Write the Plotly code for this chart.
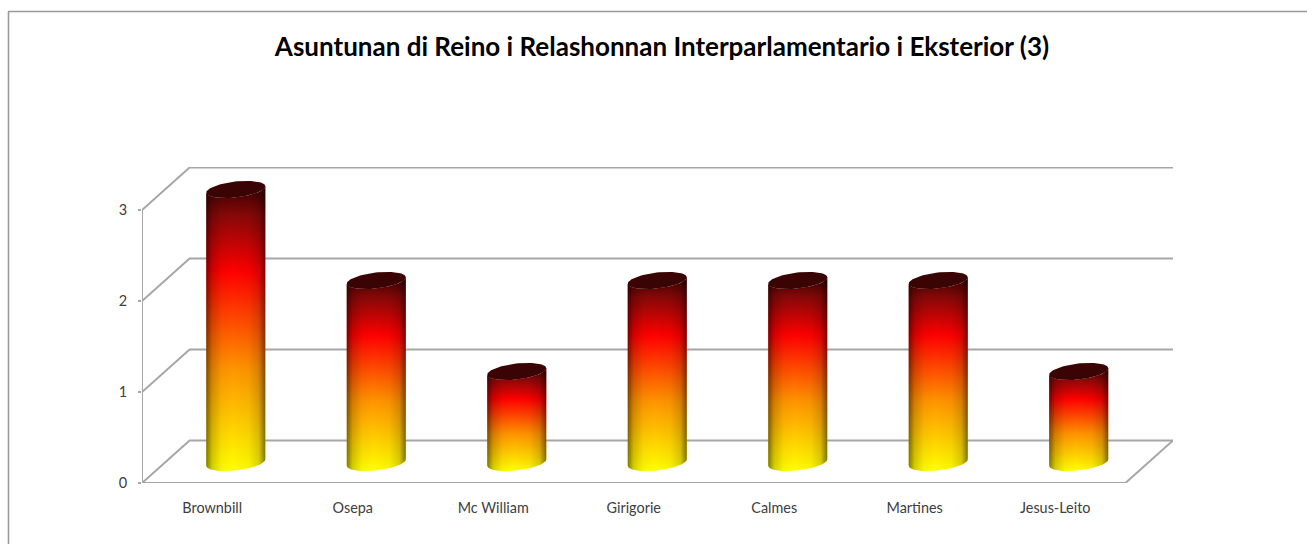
import numpy as np
import plotly.graph_objects as go

title = "Asuntunan di Reino i Relashonnan Interparlamentario i Eksterior (3)"
categories = ["Brownbill", "Osepa", "Mc William", "Girigorie", "Calmes", "Martines", "Jesus-Leito"]
values = [3, 2, 1, 2, 2, 2, 1]
y_ticks = [0, 1, 2, 3]

W, H = 1307, 544
L, R, T, B = 142, 1173, 167, 483
PX_X = (1124 - 142) / 7
PX_Y = 91.0
DX, DY = 47.5 / PX_X, 42.5 / PX_Y      # oblique depth of the chart box
CX, CY = 23.5 / PX_X, 20.5 / PX_Y      # bar axis depth position
HW, HH = 29.5 / PX_X, 8.0 / PX_Y       # ellipse half-axes
TILT = 3.2 / PX_Y                      # ellipse skew
GRID = "#a6a6a6"

fig = go.Figure()

def line(xs, ys, color=GRID, width=2):
    fig.add_trace(go.Scatter(x=xs, y=ys, mode="lines", line=dict(color=color, width=width),
                             hoverinfo="skip", showlegend=False, cliponaxis=False))

xmin, xmax = -0.5, len(categories) - 0.5

# back wall and side wall gridlines, floor
for v in y_ticks:
    line([xmin, xmin + DX, xmax + DX], [v, v + DY, v + DY])
line([xmax, xmax + DX], [0, DY])
# value axis and category axis with boundary ticks
line([xmin, xmin], [0, max(y_ticks)])
line([xmin, xmax], [0, 0])
for k in range(len(categories) + 1):
    line([xmin + k, xmin + k], [0, -6 / PX_Y], width=1.4)

body_scale = [[0, "#ffff00"], [0.36, "#ff9400"], [0.70, "#ff0000"], [0.90, "#860808"], [1, "#3a0000"]]
shade_scale = [[0, "rgba(0,0,0,0.50)"], [0.10, "rgba(0,0,0,0.18)"], [0.26, "rgba(0,0,0,0.03)"],
               [0.45, "rgba(0,0,0,0)"], [0.72, "rgba(0,0,0,0.03)"], [0.89, "rgba(0,0,0,0.15)"],
               [1, "rgba(0,0,0,0.50)"]]

t_low = np.linspace(np.pi, 2 * np.pi, 40)     # front (lower) arc, left to right
t_all = np.linspace(0, 2 * np.pi, 80)

def ell(c, yc, t):
    return c + HW * np.cos(t), yc + HH * np.sin(t) + TILT * np.cos(t)

for i, v in enumerate(values):
    c = i + CX
    y0, y1 = CY, v + CY
    bx, by = ell(c, y0, t_low)
    tx, ty = ell(c, y1, t_low[::-1])
    xs = np.concatenate([bx, tx]).tolist()
    ys = np.concatenate([by, ty]).tolist()
    fig.add_trace(go.Scatter(x=xs, y=ys, mode="lines", line=dict(width=0), fill="toself",
                             fillgradient=dict(type="vertical", colorscale=body_scale),
                             name=categories[i], showlegend=False, hoverinfo="skip"))
    fig.add_trace(go.Scatter(x=xs, y=ys, mode="lines", line=dict(width=0), fill="toself",
                             fillgradient=dict(type="horizontal", colorscale=shade_scale),
                             showlegend=False, hoverinfo="skip"))
    cx_, cy_ = ell(c, y1, t_all)
    fig.add_trace(go.Scatter(x=cx_.tolist(), y=cy_.tolist(), mode="lines", line=dict(width=0),
                             fill="toself", fillcolor="#3a0404",
                             showlegend=False, hoverinfo="skip"))

# chart frame: top and left edges only
fig.add_shape(type="line", xref="paper", yref="paper", x0=(8 - L) / (R - L), x1=(W - L) / (R - L),
              y0=(B - 11.5) / (B - T), y1=(B - 11.5) / (B - T), line=dict(color="#9a9a9a", width=1.6))
fig.add_shape(type="line", xref="paper", yref="paper", x0=(8.5 - L) / (R - L), x1=(8.5 - L) / (R - L),
              y0=(B - H) / (B - T), y1=(B - 11.5) / (B - T), line=dict(color="#9a9a9a", width=1.6))

fig.update_layout(
    width=W, height=H, autosize=False,
    margin=dict(l=L, r=W - R, t=T, b=H - B),
    paper_bgcolor="white", plot_bgcolor="white", showlegend=False,
    title=dict(text=f"<b>{title}</b>", x=662 / W, xanchor="center", y=1 - 47 / H, yanchor="middle",
               font=dict(family="Lato", size=26, color="#000000")),
    xaxis=dict(range=[xmin, xmax + DX], tickmode="array", tickvals=list(range(len(categories))),
               ticktext=categories, showgrid=False, zeroline=False, showline=False, ticks="",
               ticklabelstandoff=15, tickfont=dict(family="Lato", size=14.4, color="#404040")),
    yaxis=dict(range=[0, (B - T) / PX_Y], tickmode="array", tickvals=y_ticks,
               ticktext=[str(v) for v in y_ticks], showgrid=False, zeroline=False, showline=False,
               ticks="outside", ticklen=3, tickcolor=GRID, tickwidth=1.6, ticklabelstandoff=8,
               tickfont=dict(family="Lato", size=14.5, color="#404040")),
)

fig.write_html("out.html", config={"displayModeBar": False},
               post_script="document.body.style.margin='0';document.documentElement.style.overflow='hidden';")
